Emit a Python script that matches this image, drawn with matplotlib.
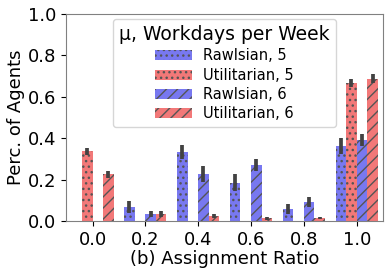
import numpy as np
import matplotlib
matplotlib.use('Agg')
import matplotlib.pyplot as plt

plt.rcParams['hatch.color'] = '#555555'
plt.rcParams['hatch.linewidth'] = 1.0

ratios = ['0.0', '0.2', '0.4', '0.6', '0.8', '1.0']
labels = ['Rawlsian, 5', 'Utilitarian, 5', 'Rawlsian, 6', 'Utilitarian, 6']

rawls_5 = [0.0, 0.068, 0.333, 0.185, 0.058, 0.362]
util_5 = [0.338, 0.0, 0.0, 0.0, 0.0, 0.667]
rawls_6 = [0.0, 0.034, 0.226, 0.270, 0.091, 0.392]
util_6 = [0.226, 0.034, 0.024, 0.013, 0.015, 0.688]

rawls_5_err = [0.0, 0.027, 0.033, 0.042, 0.026, 0.037]
util_5_err = [0.017, 0.0, 0.0, 0.0, 0.0, 0.020]
rawls_6_err = [0.0, 0.015, 0.038, 0.029, 0.023, 0.028]
util_6_err = [0.018, 0.015, 0.008, 0.007, 0.006, 0.022]

series = [rawls_5, util_5, rawls_6, util_6]
errors = [rawls_5_err, util_5_err, rawls_6_err, util_6_err]
colors = ['#7878f0', '#f27878', '#7878f0', '#f27878']
hatches = ['...', '...', '///', '///']

fig = plt.figure(figsize=(3.91, 2.75), dpi=100)
ax = fig.add_axes([0.169, 0.196, 0.811, 0.753])

x = np.arange(len(ratios))
width = 0.2
for i, (vals, errs) in enumerate(zip(series, errors)):
    pos = x + (i - 1.5) * width
    ax.bar(pos, vals, width, color=colors[i], hatch=hatches[i], linewidth=0,
           label=labels[i])
    for p, v, e in zip(pos, vals, errs):
        if e > 0:
            ax.plot([p, p], [v - e, v + e], color='#424242', lw=2.7,
                    solid_capstyle='butt')

ax.set_xticks(x)
ax.set_xticklabels(ratios, fontsize=13)
ax.set_xlim(-0.5, 5.5)
ax.set_ylim(0, 1.0)
ax.set_yticks([0, 0.2, 0.4, 0.6, 0.8, 1.0])
ax.set_yticklabels(['0.0', '0.2', '0.4', '0.6', '0.8', '1.0'], fontsize=13)
ax.set_xlabel('(b) Assignment Ratio', fontsize=13, labelpad=1)
ax.set_ylabel('Perc. of Agents', fontsize=13, labelpad=2)
for s in ax.spines.values():
    s.set_color('#808080')

leg = ax.legend(loc='upper center', title='μ, Workdays per Week',
                fontsize=10.5, title_fontsize=13.5, borderaxespad=0.35,
                handlelength=2.5, labelspacing=0.3)

plt.savefig('out.png', dpi=100)
